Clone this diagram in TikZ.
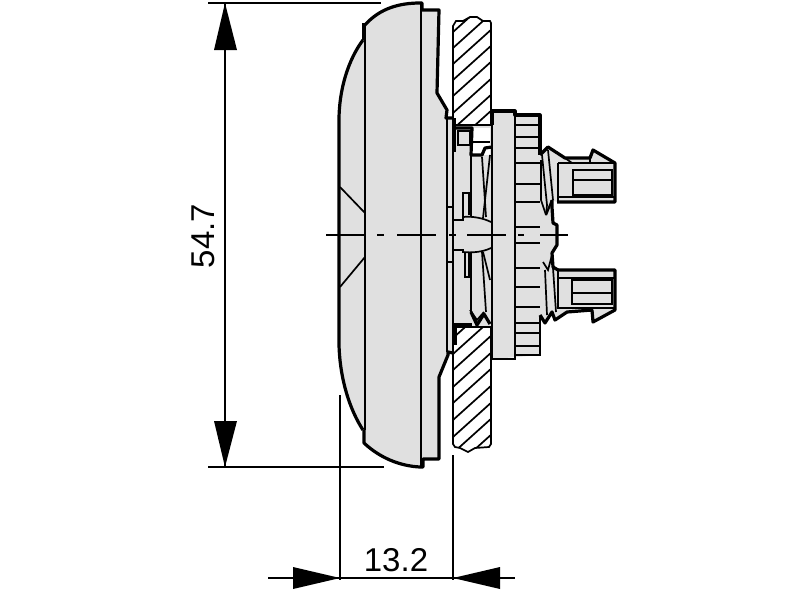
\documentclass[tikz,border=0pt]{standalone}
\usepackage{fontspec}
\setmainfont{Liberation Sans}
\definecolor{bodygray}{HTML}{E0E0E0}
\tikzset{
  thick line/.style={line width=3.2pt,line join=round},
  mid line/.style={line width=2.2pt,line join=miter},
  thin line/.style={line width=1.7pt},
  dim line/.style={line width=1.5pt,black},
  grayfill/.style={fill=bodygray},
  dim label/.style={inner sep=0pt,font=\fontsize{33}{33}\selectfont,scale=1},
  center line/.style={line width=1.7pt,dash pattern=on 38pt off 6pt on 6pt off 6pt},
}
\begin{document}
\begin{tikzpicture}[x=1pt,y=-1pt]
\useasboundingbox (0,0) rectangle (800,600);
\fill[white] (0,0) rectangle (800,600);
% ---- gray fills
\fill[grayfill] (363,40) .. controls (348,60) and (339,90) .. (339,120) -- (339,345)
  .. controls (340,380) and (350,410) .. (363,430) -- (365,443)
  .. controls (380,458) and (400,466) .. (420,467) -- (423,459) -- (439,459) -- (439,377)
  -- (448,355) -- (453,353) -- (492,330) -- (493,359) -- (540,355) -- (540,315)
  -- (545,323) -- (552,312) -- (555,320) -- (567,312) -- (592,310) -- (593,322) -- (615,310)
  -- (615,270) -- (558,270) -- (553,267) -- (552,253) -- (557,243) -- (557,225) -- (553,223)
  -- (552,200) -- (557,202) -- (615,202) -- (615,163) -- (593,150) -- (590,158) -- (565,158)
  -- (548,147) -- (540,155) -- (540,115) -- (515,115) -- (515,111) -- (492,111) -- (492,125)
  -- (453,118) -- (446,118) -- (447,110) -- (437,93) -- (439,10) -- (422,10) -- (420,3)
  .. controls (400,3) and (380,8) .. (365,25) -- cycle;
% white pockets
\fill[white] (472,128) rectangle (490,155);
\fill[white] (554,204) rectangle (556,222);
% ---- hatched panel
\begin{scope}
  \clip (453,24) -- (457,21) -- (463,21) -- (470,17) -- (477,17) -- (483,21) -- (491,22) -- (491,125) -- (455,125) -- (453,128) -- cycle;
  \fill[white] (440,10) rectangle (500,130);
  \foreach \yy in {32,48,64,80,96,113,129,145}
    \draw[thin line] (450,\yy+2.7) -- (500,\yy-42.3);
\end{scope}
\begin{scope}
  \clip (455,327) -- (492,327) -- (490,447) -- (475,448) -- (468,452) -- (460,448) -- (453,447) -- (453,340) -- cycle;
  \fill[white] (445,320) rectangle (500,460);
  \foreach \yy in {338,354,370,387,403,420,437,453,469}
    \draw[thin line] (450,\yy+2.7) -- (500,\yy-42.3);
\end{scope}
% panel outline
\draw[thin line] (453,128) -- (453,26) -- (456,21) -- (463,21) -- (470,17) -- (477,17) -- (483,21) -- (490,21) -- (491,23) -- (491,125) -- (455,125);
\draw[thin line] (455,327) -- (491,327) -- (491,444) -- (489,447) -- (475,448) -- (468,452) -- (460,448) -- (455,447) -- (453,444) -- (453,340);
% ---- cap outline
\draw[thick line] (363,40) .. controls (348,60) and (339,90) .. (339,120) -- (339,345)
  .. controls (340,380) and (350,410) .. (363,430);
\draw[thick line] (365,25) .. controls (380,8) and (400,3) .. (420,3) -- (422,3) -- (422,10) -- (439,10)
  -- (437,93) -- (447,110) -- (446,118) -- (453,118);
\draw[thick line] (364,23) -- (364,40);
\draw[thick line] (364,430) -- (364,443) .. controls (380,458) and (400,466) .. (420,467) -- (423,467) -- (423,459) -- (439,459)
  -- (439,377) -- (448,355) -- (448,352) -- (453,353);
\draw[mid line] (365,25) -- (365,430);
\draw[mid line] (421,3) -- (421,467);
\draw[thin line] (340,187) -- (365,213);
\draw[thin line] (340,287) -- (365,257);
% ---- centre column
\draw[thin line] (447,118) -- (447,352);
\draw[thin line] (453,118) -- (453,352);
\draw[thin line] (447,207) -- (453,207);
\draw[thin line] (447,262) -- (453,262);
\draw[thick line] (454,118) -- (454,152);
\draw[thick line] (455,325) -- (455,345);
\draw[thick line] (454,325) -- (472,325);
% upper clip
\draw[thick line] (456,128) -- (472,128) -- (471,155) -- (482,155) -- (485,148) -- (492,147);
\draw[thin line] (458,131) rectangle (470,145);
\draw[thin line] (472,142) -- (490,142);
% lower clip
\draw[thick line] (471,312) -- (477,325) -- (484,314) -- (490,324);
\draw[thin line] (470,310) -- (477,320) -- (484,312);
% leaf lines
\draw[thin line] (471,155) -- (471,217);
\draw[thin line] (471,252) -- (471,312);
\draw[thin line] (482,157) -- (486,217);
\draw[thin line] (482,252) -- (486,312);
\draw[thin line] (490,155) -- (483,218);
\draw[thin line] (483,252) -- (490,280);
\draw[thin line] (463,217) -- (463,193) -- (469,193) -- (469,215);
\draw[thin line] (465,253) -- (465,277) -- (469,277) -- (469,253);
% centre lug
\draw[thin line] (453,220) -- (463,220) -- (463,217) .. controls (472,216) and (483,218) .. (491,222);
\draw[thin line] (453,250) -- (463,250) -- (463,252) .. controls (472,253) and (483,252) .. (491,248);
% ---- flange
\draw[thick line] (492,125) -- (492,111) -- (515,111) -- (515,115) -- (540,115) -- (540,155);
\draw[mid line] (492,111) -- (492,359) -- (515,359) -- (515,355) -- (540,355) -- (540,316);
\draw[mid line] (515,111) -- (515,355);
\foreach \yy in {125,137,148,163,184,202,227,243,268,287,307,323,333,346}
  \draw[thin line] (515,\yy) -- (540,\yy);
% ---- upper connector
\draw[thick line] (540,155) -- (548,147) -- (565,158) -- (590,158) -- (593,150) -- (615,163) -- (615,202) -- (557,202);
\draw[thick line] (552,200) -- (552,207) -- (553,223) -- (557,225) -- (557,245) -- (552,253) -- (553,267) -- (558,270);
\draw[thin line] (558,163) -- (615,163);
\draw[thin line] (558,163) -- (558,202);
\draw[thin line] (558,197) -- (615,197);
\draw[thin line] (565,158) -- (572,163);
\draw[thin line] (590,158) -- (590,163);
\draw[mid line] (573,170) rectangle (612,195);
\draw[thin line] (573,180) -- (612,180);
\draw[thin line] (542,155) -- (547,205) -- (546,215);
\draw[mid line] (546,215) -- (552,200);
\draw[thin line] (546,215) -- (541,200) -- (541,160);
\draw[thin line] (548,150) -- (553,200);
% ---- lower connector
\draw[thick line] (558,270) -- (615,270) -- (615,310) -- (593,322) -- (592,310) -- (567,312) -- (555,320) -- (552,312) -- (545,323) -- (540,315);
\draw[thin line] (558,278) -- (615,278);
\draw[thin line] (558,270) -- (558,308) -- (615,308);
\draw[mid line] (572,280) rectangle (612,304);
\draw[thin line] (572,293) -- (612,293);
\draw[thin line] (543,262) -- (548,270) -- (552,255);
\draw[thin line] (545,270) -- (547,315);
\draw[thin line] (553,268) -- (556,312);
% ---- centre line
\draw[thin line] (326,235) -- (365,235);
\draw[thin line] (377,235) -- (384,235);
\draw[thin line] (397,235) -- (436,235);
\draw[thin line] (449,235) -- (456,235);
\draw[thin line] (467,235) -- (506,235);
\draw[thin line] (518,235) -- (524,235);
\draw[thin line] (540,235) -- (568,235);
% ---- dimensions
\coordinate (t1) at (208,3); \coordinate (t2) at (381,3);
\coordinate (b1) at (208,467); \coordinate (b2) at (384,467);
\coordinate (v1) at (225,3); \coordinate (v2) at (225,467);
\coordinate (l1) at (340,395); \coordinate (l2) at (340,580);
\coordinate (r1) at (453,455); \coordinate (r2) at (453,580);
\coordinate (h1) at (268,578); \coordinate (h2) at (515,578);
\draw[dim line] (t1) -- (t2);
\draw[dim line] (b1) -- (b2);
\draw[dim line] (v1) -- (v2);
\draw[dim line] (l1) -- (l2);
\draw[dim line] (r1) -- (r2);
\draw[dim line] (h1) -- (h2);
\fill (225,3) -- (237,50) -- (214,50) -- cycle;
\fill (225,467) -- (237,421) -- (214,421) -- cycle;
\fill (340,578) -- (293,567) -- (293,589) -- cycle;
\fill (453,578) -- (500,567) -- (500,589) -- cycle;
\node[dim label,rotate=90] (dimA) at (203,236) {54.7};
\node[dim label] (dimB) at (396,560) {13.2};
\end{tikzpicture}
\end{document}
